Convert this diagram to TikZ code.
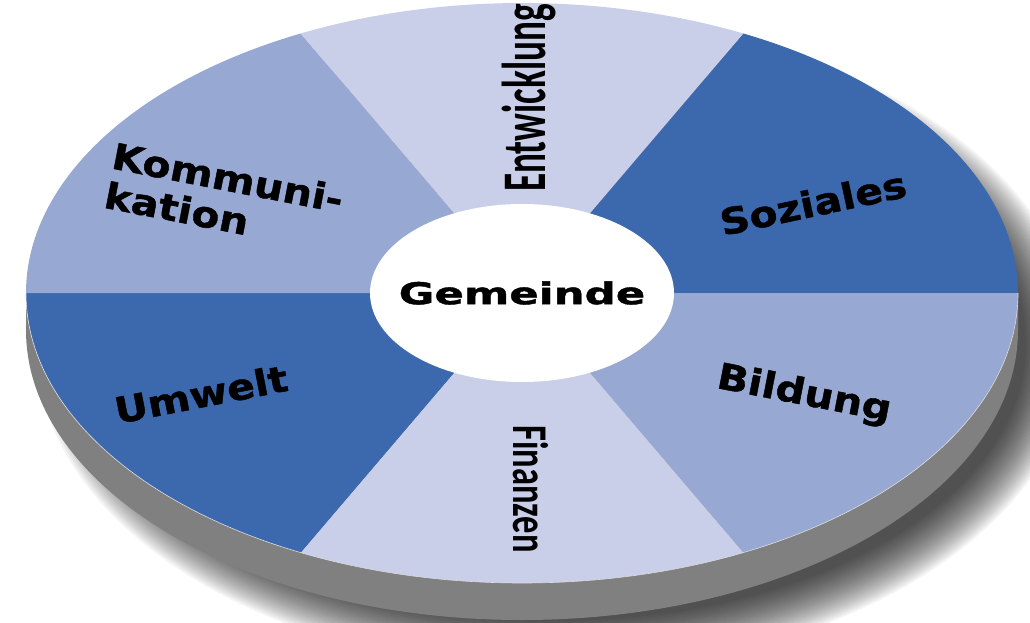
\documentclass[tikz,border=0pt]{standalone}
\usepackage{fontspec}
\usepackage{tikz}
\newfontfamily\ringfont{DejaVu Sans}[FakeStretch=1.14, FakeBold=1.2]
\newfontfamily\hubfont{DejaVu Sans}[FakeStretch=1.45, FakeBold=1.4]
\newfontfamily\tallfont{Carlito}[FakeStretch=0.6]
\newfontfamily\shortfont{Carlito}[FakeStretch=0.69]
\definecolor{darkseg}{HTML}{3C68AE}
\definecolor{midseg}{HTML}{97A8D3}
\definecolor{lightseg}{HTML}{CACFE9}
\definecolor{rim}{HTML}{808080}

\begin{document}
\begin{tikzpicture}[x=1pt, y=-1pt]
\tikzstyle{topface}=[x radius=496, y radius=290]
\tikzstyle{label}=[text=black, inner sep=0pt, font=\ringfont\bfseries\fontsize{36}{40}\selectfont]
\useasboundingbox (0,0) rectangle (1030,623);

\coordinate (c) at (522,293);

\foreach \r in {50,48,...,0}
  \fill[black, opacity=0.045] (556,345) ellipse[x radius=470+\r, y radius=276+\r];

\fill[rim] (26,293) -- (26,330) arc[topface, start angle=180, end angle=0]
  -- (1018,293) arc[topface, start angle=0, end angle=180] -- cycle;

\foreach \a/\b/\col in {296.5/360/darkseg, 0/63.5/midseg, 63.5/116.5/lightseg,
    116.5/180/darkseg, 180/243.5/midseg, 243.5/296.5/lightseg}
  \fill[\col] (c) -- ++(\a:496 and 290) arc[topface, start angle=\a, end angle=\b] -- cycle;

\draw[white!75!rim, line width=0.6pt] (26,293) arc[topface, start angle=180, end angle=0];

\fill[white] (c) ellipse[x radius=152, y radius=89];
\node[inner sep=0pt, font=\hubfont\bfseries\fontsize{30}{34}\selectfont] (g) at (c) {Gemeinde};

\node[label, rotate=12] (s) at (813,203) {Soziales};
\node[label, rotate=-11] (b) at (804,395) {Bildung};
\node[label, rotate=11] (u) at (201,394) {Umwelt};
\node[label, rotate=-11, align=left] (k) at (224,197) {Kommuni-\\kation};
\node[inner sep=0pt, rotate=90, anchor=base, font=\tallfont\bfseries\fontsize{62}{70}\selectfont] (e) at (545,98) {Entwicklung};
\node[inner sep=0pt, rotate=-90, anchor=base, font=\shortfont\bfseries\fontsize{50}{56}\selectfont] (f) at (513,489) {Finanzen};

\end{tikzpicture}
\end{document}
